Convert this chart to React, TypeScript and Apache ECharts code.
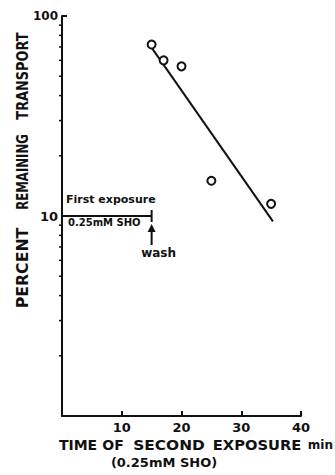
import React, { useEffect, useRef } from "react";
import * as echarts from "echarts";

// Measured points: time of second exposure (min) vs percent remaining transport
const times = [15, 17, 20, 25, 35];
const remaining = [72, 60, 56, 15, 11.5];
// Fitted line end points
const fitTimes = [14.5, 35.3];
const fitValues = [73, 9.4];
// First exposure bar (0 to 15 min at level 10)
const exposureTimes = [0, 15];
const exposureLevels = [10, 10];
// Axis tick settings
const xTickLabels = ["10", "20", "30", "40"];
const yTickLabels = ["10", "100"];
const minorTickValues = [2, 3, 4, 5, 6, 7, 8, 9, 20, 30, 40, 50, 60, 70, 80, 90];

const INK = "#111";
const FONT = "DejaVu Sans";

export default function App() {
  const ref = useRef<HTMLDivElement>(null);
  useEffect(() => {
    if (!ref.current) return;
    const chart = echarts.init(ref.current, null, { renderer: "svg" });
    const option: any = {
      animation: false,
      backgroundColor: "#fff",
      textStyle: { fontFamily: FONT, fontWeight: "bold", color: INK },
      grid: { left: 62, top: 16, width: 239, height: 400, containLabel: false },
      xAxis: {
        type: "value",
        min: 0,
        max: 40,
        interval: 10,
        splitLine: { show: false },
        axisLine: { show: true, lineStyle: { color: INK, width: 2 } },
        axisTick: { show: true, inside: true, length: 5, lineStyle: { color: INK, width: 2 } },
        axisLabel: {
          margin: 5,
          fontFamily: FONT,
          fontWeight: "bold",
          fontSize: 13,
          color: INK,
          formatter: (v: number) => (xTickLabels.includes(String(v)) ? String(v) : ""),
        },
      },
      yAxis: {
        type: "log",
        logBase: 10,
        min: 1,
        max: 100,
        splitLine: { show: false },
        axisLine: { show: true, lineStyle: { color: INK, width: 2 } },
        axisTick: { show: true, inside: true, length: 5, lineStyle: { color: INK, width: 2 } },
        axisLabel: {
          margin: 4,
          color: INK,
          formatter: (v: number) => {
            const s = String(Math.round(v));
            if (!yTickLabels.includes(s)) return "";
            return s === "100" ? "{s|" + s + "}" : "{b|" + s + "}";
          },
          rich: {
            s: { fontFamily: FONT, fontWeight: "bold", fontSize: 12, color: INK },
            b: { fontFamily: FONT, fontWeight: "bold", fontSize: 13, color: INK },
          },
        },
      },
      series: [
        {
          type: "custom",
          silent: true,
          clip: false,
          data: minorTickValues.map((v) => [0, v]),
          renderItem: (_p: any, api: any) => {
            const pt = api.coord([api.value(0), api.value(1)]);
            return {
              type: "line",
              shape: { x1: pt[0] - 3, y1: pt[1], x2: pt[0], y2: pt[1] },
              style: { stroke: INK, lineWidth: 1.5 },
            };
          },
        },
        {
          type: "line",
          data: exposureTimes.map((t, i) => [t, exposureLevels[i]]),
          symbol: "none",
          lineStyle: { color: INK, width: 2 },
        },
        {
          type: "line",
          data: fitTimes.map((t, i) => [t, fitValues[i]]),
          symbol: "none",
          lineStyle: { color: INK, width: 2 },
          z: 3,
        },
        {
          type: "scatter",
          data: times.map((t, i) => [t, remaining[i]]),
          symbol: "circle",
          symbolSize: 8,
          itemStyle: { color: "#fff", borderColor: INK, borderWidth: 2, opacity: 1 },
          z: 5,
        },
      ],
    };
    chart.setOption(option);

    const end = chart.convertToPixel({ gridIndex: 0 }, [exposureTimes[1], exposureLevels[1]]) as number[];
    const origin = chart.convertToPixel({ gridIndex: 0 }, [0, 10]) as number[];
    const ex = end[0];
    const ey = end[1];
    const txt = (text: string, x: number, y: number, size: number, align = "left", extra: any = {}) => ({
      type: "text",
      x,
      y,
      ...extra,
      style: {
        text,
        fill: INK,
        font: `bold ${size}px "${FONT}"`,
        textAlign: align,
        textVerticalAlign: "middle",
      },
    });
    const vtxt = (text: string, cy: number, sx: number) =>
      txt(text, 23, cy, 15, "center", { rotation: Math.PI / 2, scaleX: sx });
    chart.setOption({
      graphic: [
        // end tick of first exposure bar
        { type: "line", shape: { x1: ex, y1: ey - 6, x2: ex, y2: ey + 6 }, style: { stroke: INK, lineWidth: 2 } },
        // wash arrow
        { type: "line", shape: { x1: ex, y1: ey + 29, x2: ex, y2: ey + 13 }, style: { stroke: INK, lineWidth: 2 } },
        { type: "polygon", shape: { points: [[ex, ey + 8], [ex - 4, ey + 16], [ex + 4, ey + 16]] }, style: { fill: INK } },
        txt("First exposure", origin[0] + 4, ey - 17, 11),
        txt("0.25mM SHO", origin[0] + 6, ey + 6, 10),
        txt("wash", ex + 7, ey + 37, 12, "center"),
        // y axis title
        vtxt("TRANSPORT", 76, 0.86),
        vtxt("REMAINING", 172, 0.78),
        vtxt("PERCENT", 268, 1.05),
        // x axis title
        txt("TIME", 78, 445, 14, "center"),
        txt("OF", 113, 445, 14, "center"),
        txt("SECOND", 169, 445, 14, "center", { scaleX: 1.1 }),
        txt("EXPOSURE", 257, 445, 14, "center", { scaleX: 1.05 }),
        txt("min", 333, 445, 12, "right"),
        txt("(0.25mM SHO)", 164, 462, 13, "center"),
      ],
    });
    return () => chart.dispose();
  }, []);
  return (
    <div
      ref={ref}
      style={{ position: "fixed", left: 0, top: 0, width: 335, height: 475, background: "#fff" }}
    />
  );
}
